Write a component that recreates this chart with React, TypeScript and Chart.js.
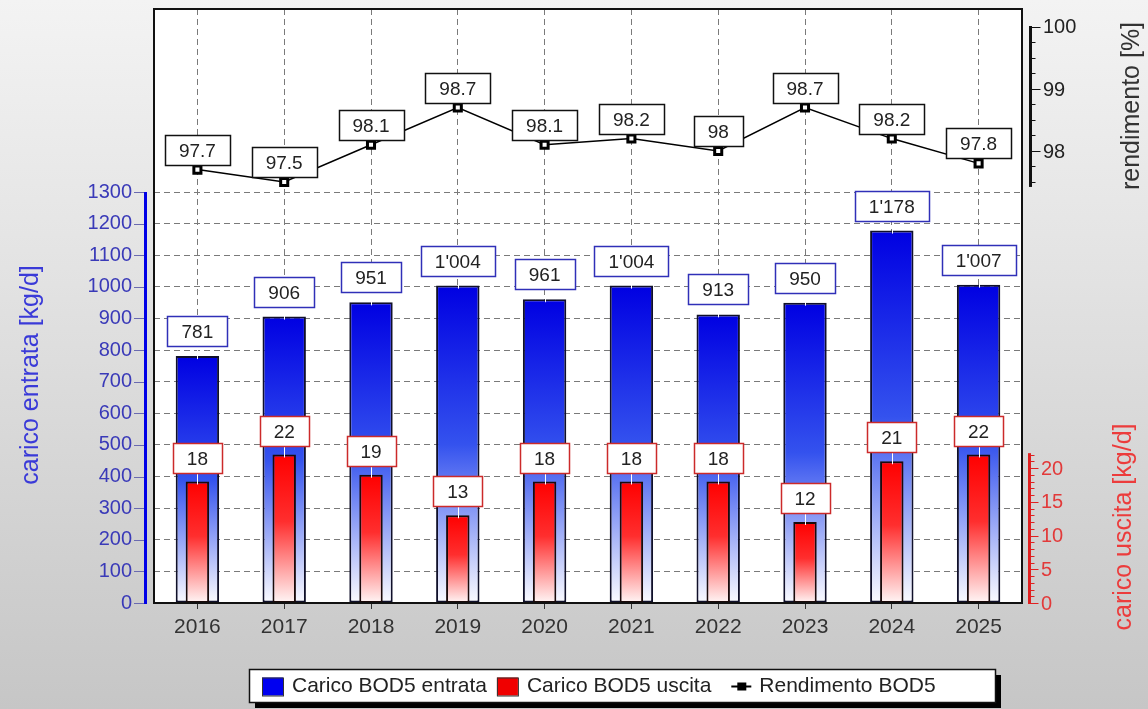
import React, { useEffect, useRef } from 'react';
import { Chart, registerables } from 'chart.js';

Chart.register(...registerables);

const FONT = '"Liberation Sans", Arial, Helvetica, sans-serif';

// ---- data ----
const years = ['2016', '2017', '2018', '2019', '2020', '2021', '2022', '2023', '2024', '2025'];
const caricoEntrata = [781, 906, 951, 1004, 961, 1004, 913, 950, 1178, 1007];
const caricoUscita = [18, 22, 19, 13, 18, 18, 18, 12, 21, 22];
const rendimento = [97.7, 97.5, 98.1, 98.7, 98.1, 98.2, 98, 98.7, 98.2, 97.8];

const entrataTicks = [0, 100, 200, 300, 400, 500, 600, 700, 800, 900, 1000, 1100, 1200, 1300];
const uscitaTicks = [0, 5, 10, 15, 20];
const rendimentoTicks = [98, 99, 100];

const seriesNames = ['Carico BOD5 entrata', 'Carico BOD5 uscita', 'Rendimento BOD5'];
const titleEntrata = 'carico entrata [kg/d]';
const titleUscita = 'carico uscita [kg/d]';
const titleRendimento = 'rendimento [%]';

// scale ranges
const entrataMin = 0;
const entrataMax = 1879;
const uscitaMin = 0;
const uscitaMax = 88;
const uscitaAxisTop = 22.2;
const rendMin = 90.71;
const rendMax = 100.29;
const rendAxisBottom = 97.42;

const fmtThousands = (n: number) =>
  n >= 1000 ? `${Math.floor(n / 1000)}'${String(n % 1000).padStart(3, '0')}` : String(n);

function gradFill(axisId: string, stops: [number, string][], fallback: string) {
  return (c: any) => {
    const chart = c.chart;
    const s = chart.scales && chart.scales[axisId];
    if (c.type !== 'data' || !s) return fallback;
    const top = s.getPixelForValue(c.raw);
    const bot = s.getPixelForValue(0);
    if (!isFinite(top) || !isFinite(bot) || top === bot) return fallback;
    const g = chart.ctx.createLinearGradient(0, top, 0, bot);
    stops.forEach(([o, col]) => g.addColorStop(o, col));
    return g;
  };
}

function labelBox(ctx: CanvasRenderingContext2D, cx: number, bottom: number, text: string, color: string) {
  ctx.font = `19px ${FONT}`;
  const tw = ctx.measureText(text).width;
  const w = Math.round(tw + 28);
  const h = 30;
  const x = Math.round(cx - w / 2) + 0.5;
  const y = Math.round(bottom - h) + 0.5;
  ctx.fillStyle = '#ffffff';
  ctx.fillRect(x, y, w, h);
  ctx.strokeStyle = color;
  ctx.lineWidth = 1.5;
  ctx.strokeRect(x, y, w, h);
  ctx.fillStyle = '#222222';
  ctx.textAlign = 'center';
  ctx.textBaseline = 'middle';
  ctx.fillText(text, cx, y + h / 2 + 1);
}

function vText(ctx: CanvasRenderingContext2D, text: string, x: number, y: number, color: string, size: number) {
  ctx.save();
  ctx.translate(x, y);
  ctx.rotate(-Math.PI / 2);
  ctx.font = `${size}px ${FONT}`;
  ctx.fillStyle = color;
  ctx.textAlign = 'center';
  ctx.textBaseline = 'middle';
  ctx.fillText(text, 0, 0);
  ctx.restore();
}

const decorPlugin = {
  id: 'decor',
  beforeDraw(chart: any) {
    const { ctx, chartArea: a } = chart;
    ctx.save();
    ctx.fillStyle = '#ffffff';
    ctx.fillRect(a.left, a.top, a.right - a.left, a.bottom - a.top);
    ctx.restore();
  },
  afterDatasetsDraw(chart: any) {
    const { ctx } = chart;
    ctx.save();
    const mB = chart.getDatasetMeta(0);
    mB.data.forEach((el: any, i: number) => {
      const bottom = el.y - 10;
      ctx.strokeStyle = '#ffffff';
      ctx.lineWidth = 1;
      ctx.beginPath();
      ctx.moveTo(Math.round(el.x) + 0.5, bottom);
      ctx.lineTo(Math.round(el.x) + 0.5, el.y + 3);
      ctx.stroke();
      labelBox(ctx, el.x, bottom, fmtThousands(caricoEntrata[i]), '#3030b8');
    });
    const mR = chart.getDatasetMeta(1);
    mR.data.forEach((el: any, i: number) => {
      const bottom = el.y - 9;
      ctx.strokeStyle = '#ffffff';
      ctx.lineWidth = 1;
      ctx.beginPath();
      ctx.moveTo(Math.round(el.x) + 0.5, bottom);
      ctx.lineTo(Math.round(el.x) + 0.5, el.y + 3);
      ctx.stroke();
      labelBox(ctx, el.x, bottom, String(Math.round(caricoUscita[i])), '#cc2a2a');
    });
    const mL = chart.getDatasetMeta(2);
    mL.data.forEach((el: any, i: number) => {
      labelBox(ctx, el.x, el.y - 5, String(rendimento[i]), '#111111');
    });
    ctx.restore();
  },
  afterDraw(chart: any) {
    const { ctx, chartArea: a } = chart;
    const yL = chart.scales.yL;
    const yR = chart.scales.yR;
    const yP = chart.scales.yP;
    ctx.save();
    ctx.strokeStyle = '#111111';
    ctx.lineWidth = 2;
    ctx.strokeRect(a.left, a.top, a.right - a.left, a.bottom - a.top);

    // left axis line + ticks
    const lTop = yL.getPixelForValue(entrataTicks[entrataTicks.length - 1]);
    const lBot = yL.getPixelForValue(0);
    ctx.strokeStyle = '#6a6ab0';
    ctx.lineWidth = 1;
    entrataTicks.forEach((v) => {
      const y = Math.round(yL.getPixelForValue(v)) + 0.5;
      ctx.beginPath();
      ctx.moveTo(134, y);
      ctx.lineTo(145, y);
      ctx.stroke();
    });
    ctx.strokeStyle = '#0000e6';
    ctx.lineWidth = 3;
    ctx.beginPath();
    ctx.moveTo(145.5, lTop);
    ctx.lineTo(145.5, lBot + 1);
    ctx.stroke();

    // right red axis
    const rx = 1029.5;
    const rTop = yR.getPixelForValue(uscitaAxisTop);
    const rBot = yR.getPixelForValue(0);
    ctx.strokeStyle = '#e02020';
    ctx.lineWidth = 1;
    for (let v = 0; v <= 22; v++) {
      const y = Math.round(yR.getPixelForValue(v)) + 0.5;
      const major = uscitaTicks.includes(v);
      ctx.beginPath();
      ctx.moveTo(rx, y);
      ctx.lineTo(rx + (major ? 9 : 5), y);
      ctx.stroke();
    }
    ctx.lineWidth = 3;
    ctx.beginPath();
    ctx.moveTo(rx, rTop);
    ctx.lineTo(rx, rBot + 1);
    ctx.stroke();
    ctx.font = `20px ${FONT}`;
    ctx.fillStyle = '#e23a3a';
    ctx.textAlign = 'left';
    ctx.textBaseline = 'middle';
    uscitaTicks.forEach((v) => {
      ctx.fillText(String(v), 1041, yR.getPixelForValue(v) + 1);
    });

    // right black axis
    const px = 1030.5;
    const pTop = yP.getPixelForValue(rendimentoTicks[rendimentoTicks.length - 1]);
    const pBot = yP.getPixelForValue(rendAxisBottom);
    ctx.strokeStyle = '#111111';
    ctx.lineWidth = 1;
    for (let k = 0; k <= 10; k++) {
      const v = 100 - k * 0.25;
      if (v < rendAxisBottom) break;
      const y = Math.round(yP.getPixelForValue(v)) + 0.5;
      const major = Math.abs(v - Math.round(v)) < 1e-6;
      ctx.beginPath();
      ctx.moveTo(px, y);
      ctx.lineTo(px + (major ? 10 : 5), y);
      ctx.stroke();
    }
    ctx.lineWidth = 3;
    ctx.beginPath();
    ctx.moveTo(px, pTop - 1);
    ctx.lineTo(px, pBot);
    ctx.stroke();
    ctx.fillStyle = '#222222';
    rendimentoTicks.forEach((v) => {
      ctx.fillText(String(v), 1043, yP.getPixelForValue(v) + 1);
    });

    // axis titles
    vText(ctx, titleEntrata, 31, 375, '#3a3ad8', 25);
    vText(ctx, titleUscita, 1124, 527, '#ec3c3c', 25);
    vText(ctx, titleRendimento, 1132, 106, '#333333', 25);

    // legend
    const lx = 249, ly = 669, lw = 746, lh = 33;
    ctx.fillStyle = '#000000';
    ctx.fillRect(lx + 6, ly + 6, lw, lh);
    ctx.fillStyle = '#ffffff';
    ctx.fillRect(lx, ly, lw, lh);
    ctx.strokeStyle = '#111111';
    ctx.lineWidth = 1.5;
    ctx.strokeRect(lx + 0.5, ly + 0.5, lw, lh);
    const cy = ly + lh / 2 + 1;
    let x = 262;
    ctx.font = `21px ${FONT}`;
    ctx.textAlign = 'left';
    ctx.textBaseline = 'middle';
    const swatches = ['#0000f0', '#f00000'];
    for (let i = 0; i < 2; i++) {
      ctx.fillStyle = swatches[i];
      ctx.fillRect(x, cy - 9, 21, 18);
      ctx.strokeStyle = '#333333';
      ctx.lineWidth = 1;
      ctx.strokeRect(x + 0.5, cy - 9 + 0.5, 21, 18);
      x += 30;
      ctx.fillStyle = '#222222';
      ctx.fillText(seriesNames[i], x, cy);
      x += ctx.measureText(seriesNames[i]).width + 10;
    }
    x += 10;
    ctx.strokeStyle = '#000000';
    ctx.lineWidth = 2;
    ctx.beginPath();
    ctx.moveTo(x, cy);
    ctx.lineTo(x + 20, cy);
    ctx.stroke();
    ctx.fillStyle = '#000000';
    ctx.fillRect(x + 6, cy - 4, 9, 8);
    x += 28;
    ctx.fillStyle = '#222222';
    ctx.fillText(seriesNames[2], x, cy);
    ctx.restore();
  },
};

export default function App() {
  const ref = useRef<HTMLCanvasElement | null>(null);

  useEffect(() => {
    if (!ref.current) return;
    Chart.defaults.font.family = FONT;
    const chart = new Chart(ref.current, {
      type: 'bar',
      data: {
        labels: years,
        datasets: [
          {
            type: 'bar',
            label: seriesNames[0],
            data: caricoEntrata,
            yAxisID: 'yL',
            backgroundColor: gradFill('yL', [[0, '#0000e2'], [0.5, '#3452ee'], [1, '#fbfbff']], '#0000e2'),
            borderColor: '#10102a',
            borderWidth: 2,
            borderSkipped: false,
            barPercentage: 0.5,
            categoryPercentage: 1,
            grouped: false,
            order: 3,
          } as any,
          {
            type: 'bar',
            label: seriesNames[1],
            data: caricoUscita,
            yAxisID: 'yR',
            backgroundColor: gradFill('yR', [[0, '#ff0000'], [0.45, '#ff2e2e'], [1, '#fff6f6']], '#ff0000'),
            borderColor: '#1a0a0a',
            borderWidth: 2,
            borderSkipped: false,
            barPercentage: 0.27,
            categoryPercentage: 1,
            grouped: false,
            order: 2,
          } as any,
          {
            type: 'line',
            label: seriesNames[2],
            data: rendimento,
            yAxisID: 'yP',
            borderColor: '#000000',
            borderWidth: 1.5,
            pointStyle: 'rect',
            pointRadius: 5,
            pointBackgroundColor: '#ffffff',
            pointBorderColor: '#000000',
            pointBorderWidth: 3,
            tension: 0,
            order: 1,
          } as any,
        ],
      },
      options: {
        responsive: false,
        maintainAspectRatio: false,
        animation: false,
        layout: { padding: { top: 9, right: 126, left: 0, bottom: 0 } },
        plugins: { legend: { display: false }, tooltip: { enabled: false } },
        scales: {
          x: {
            type: 'category',
            offset: true,
            grid: { display: true, offset: false, color: '#7a7a7a', drawTicks: true, tickLength: 6, tickColor: '#333333' },
            border: { display: false, dash: [6, 4] },
            ticks: { color: '#333333', font: { size: 21 }, padding: 6, maxRotation: 0 },
            afterFit: (s: any) => {
              s.height = 106;
              s.paddingLeft = 0;
              s.paddingRight = 0;
            },
          },
          yL: {
            type: 'linear',
            position: 'left',
            min: entrataMin,
            max: entrataMax,
            grid: { display: true, color: '#7a7a7a', drawTicks: false },
            border: { display: false, dash: [6, 4] },
            ticks: { color: '#3a3ab8', font: { size: 20 }, padding: 22, callback: (v: any) => String(v) },
            afterBuildTicks: (s: any) => { s.ticks = entrataTicks.map((v) => ({ value: v })); },
            afterFit: (s: any) => {
              s.width = 154;
              s.paddingTop = 0;
              s.paddingBottom = 0;
            },
          },
          yR: {
            type: 'linear',
            position: 'right',
            display: false,
            min: uscitaMin,
            max: uscitaMax,
          },
          yP: {
            type: 'linear',
            position: 'right',
            display: false,
            min: rendMin,
            max: rendMax,
          },
        },
      } as any,
      plugins: [decorPlugin],
    });
    return () => chart.destroy();
  }, []);

  return (
    <div
      style={{
        position: 'fixed',
        left: 0,
        top: 0,
        width: 1148,
        height: 709,
        background: 'linear-gradient(180deg, #f3f3f3 0%, #e2e2e2 40%, #c6c6c6 100%)',
      }}
    >
      <canvas ref={ref} width={1148} height={709} style={{ display: 'block', width: 1148, height: 709 }} />
    </div>
  );
}
